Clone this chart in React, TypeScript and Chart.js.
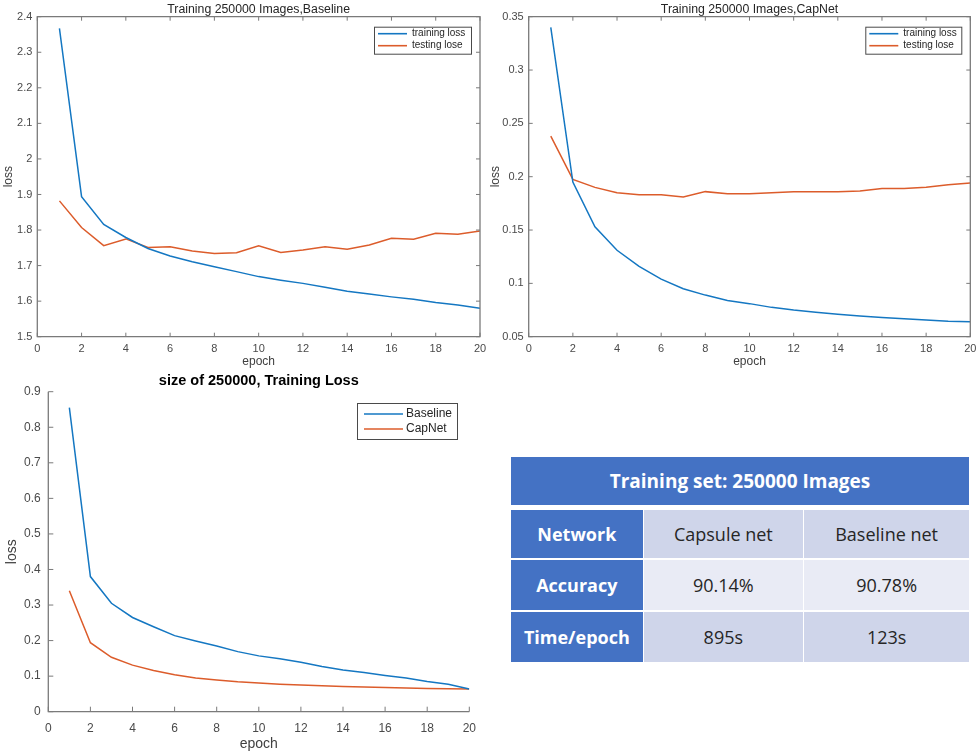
import React, { useEffect, useRef } from 'react';
import { Chart, registerables } from 'chart.js';

Chart.register(...registerables);

// ---------------- data ----------------
const epochs = [1, 2, 3, 4, 5, 6, 7, 8, 9, 10, 11, 12, 13, 14, 15, 16, 17, 18, 19, 20];

const baselineTrainLoss = [2.367, 1.894, 1.816, 1.779, 1.748, 1.727, 1.711, 1.697, 1.683, 1.669, 1.659, 1.650, 1.639, 1.628, 1.620, 1.612, 1.605, 1.596, 1.589, 1.580];
const baselineTestLoss = [1.882, 1.807, 1.756, 1.775, 1.751, 1.753, 1.741, 1.734, 1.736, 1.756, 1.737, 1.744, 1.753, 1.746, 1.758, 1.777, 1.774, 1.791, 1.788, 1.797];

const capnetTrainLoss = [0.340, 0.195, 0.153, 0.131, 0.116, 0.104, 0.095, 0.089, 0.084, 0.081, 0.0775, 0.075, 0.073, 0.071, 0.0694, 0.068, 0.0669, 0.0656, 0.0644, 0.064];
const capnetTestLoss = [0.238, 0.1975, 0.190, 0.185, 0.183, 0.183, 0.181, 0.186, 0.184, 0.184, 0.185, 0.186, 0.186, 0.186, 0.1866, 0.189, 0.189, 0.190, 0.1925, 0.194];

const compareBaselineLoss = [0.855, 0.380, 0.305, 0.265, 0.239, 0.214, 0.199, 0.185, 0.169, 0.157, 0.149, 0.139, 0.127, 0.117, 0.110, 0.102, 0.095, 0.085, 0.077, 0.064];
const compareCapnetLoss = [0.340, 0.194, 0.153, 0.131, 0.116, 0.104, 0.095, 0.089, 0.084, 0.081, 0.0775, 0.075, 0.073, 0.071, 0.0694, 0.068, 0.0669, 0.0656, 0.0644, 0.064];

const xTicks = [0, 2, 4, 6, 8, 10, 12, 14, 16, 18, 20];
const baselineYTicks = [1.5, 1.6, 1.7, 1.8, 1.9, 2.0, 2.1, 2.2, 2.3, 2.4];
const capnetYTicks = [0.05, 0.1, 0.15, 0.2, 0.25, 0.3, 0.35];
const compareYTicks = [0, 0.1, 0.2, 0.3, 0.4, 0.5, 0.6, 0.7, 0.8, 0.9];

const tableTitle = 'Training set: 250000 Images';
const tableRowLabels = ['Network', 'Accuracy', 'Time/epoch'];
const capsuleColumn = ['Capsule net', '90.14%', '895s'];
const baselineColumn = ['Baseline net', '90.78%', '123s'];

// ---------------- styles ----------------
const BLUE = '#1477C2';
const ORANGE = '#DC5C2B';
const AXIS = '#7a7a7a';
const TICKTXT = '#4a4a4a';
const FONT = '"Liberation Sans", Arial, Helvetica, sans-serif';

const matlabPlugin = {
  id: 'matlabAxes',
  afterDatasetsDraw(chart: any, _args: any, opts: any) {
    const { ctx, chartArea: a } = chart;
    const xs = chart.scales.x;
    const ys = chart.scales.y;
    const L = opts.tickLen || 4;
    ctx.save();

    // axes title, centred on the plot area (MATLAB style)
    if (opts.title) {
      ctx.font = `${opts.title.weight} ${opts.title.size}px ${FONT}`;
      ctx.fillStyle = opts.title.color;
      ctx.textAlign = 'center';
      ctx.textBaseline = 'middle';
      ctx.fillText(opts.title.text, (a.left + a.right) / 2, opts.title.y);
    }

    ctx.strokeStyle = AXIS;
    ctx.lineWidth = 1;
    ctx.beginPath();
    xs.ticks.forEach((t: any) => {
      const px = xs.getPixelForValue(t.value);
      ctx.moveTo(px, a.bottom);
      ctx.lineTo(px, a.bottom - L);
      if (opts.box) {
        ctx.moveTo(px, a.top);
        ctx.lineTo(px, a.top + L);
      }
    });
    ys.ticks.forEach((t: any) => {
      const py = ys.getPixelForValue(t.value);
      ctx.moveTo(a.left, py);
      ctx.lineTo(a.left + L, py);
      if (opts.box) {
        ctx.moveTo(a.right, py);
        ctx.lineTo(a.right - L, py);
      }
    });
    ctx.stroke();
    ctx.lineWidth = 1.3;
    ctx.beginPath();
    if (opts.box) {
      ctx.rect(a.left, a.top, a.right - a.left, a.bottom - a.top);
    } else {
      ctx.moveTo(a.left, a.top);
      ctx.lineTo(a.left, a.bottom);
      ctx.lineTo(a.right, a.bottom);
    }
    ctx.stroke();

    // legend
    const lg = opts.legend;
    if (lg) {
      const bx = a.right - lg.inset - lg.width;
      const by = a.top + lg.top;
      ctx.fillStyle = '#ffffff';
      ctx.fillRect(bx, by, lg.width, lg.height);
      ctx.strokeStyle = '#4a4a4a';
      ctx.lineWidth = 1;
      ctx.strokeRect(bx + 0.5, by + 0.5, lg.width, lg.height);
      ctx.font = `${lg.fontSize}px ${FONT}`;
      ctx.textBaseline = 'middle';
      ctx.textAlign = 'left';
      chart.data.datasets.forEach((ds: any, i: number) => {
        const y = by + lg.firstRow + i * lg.rowGap;
        ctx.strokeStyle = ds.borderColor;
        ctx.lineWidth = 1.6;
        ctx.beginPath();
        ctx.moveTo(bx + lg.lineStart, y);
        ctx.lineTo(bx + lg.lineStart + lg.lineLen, y);
        ctx.stroke();
        ctx.fillStyle = '#262626';
        ctx.fillText(ds.label, bx + lg.textStart, y);
      });
    }
    ctx.restore();
  },
};

const fmt = (v: number) => String(Number(Number(v).toFixed(3)));

function buildConfig(spec: any) {
  return {
    type: 'line',
    data: {
      datasets: spec.series.map((s: any) => ({
        label: s.label,
        data: epochs.map((e, i) => ({ x: e, y: s.data[i] })),
        borderColor: s.color,
        backgroundColor: s.color,
        borderWidth: 1.5,
        pointRadius: 0,
        tension: 0,
        fill: false,
      })),
    },
    options: {
      responsive: false,
      animation: false,
      events: [],
      layout: { padding: { left: 0, right: spec.padRight, top: spec.padTop, bottom: 0 } },
      plugins: {
        legend: { display: false },
        tooltip: { enabled: false },
        title: { display: false },
        matlabAxes: { box: spec.box, tickLen: spec.tickLen, legend: spec.legend, title: spec.title },
      },
      scales: {
        x: {
          type: 'linear',
          min: 0,
          max: 20,
          grid: { display: false, drawTicks: false },
          border: { display: false },
          afterBuildTicks: (s: any) => { s.ticks = xTicks.map((v) => ({ value: v })); },
          afterFit: (s: any) => { s.height = spec.xAxisHeight; s.paddingLeft = 0; s.paddingRight = 0; },
          ticks: { color: TICKTXT, font: spec.tickFont, padding: spec.xTickPad, maxRotation: 0, autoSkip: false, callback: (v: number) => fmt(v) },
          title: { display: true, text: 'epoch', color: '#404040', font: spec.axisTitleFont, padding: spec.xTitlePad },
        },
        y: {
          type: 'linear',
          min: spec.yMin,
          max: spec.yMax,
          grid: { display: false, drawTicks: false },
          border: { display: false },
          afterBuildTicks: (s: any) => { s.ticks = spec.yTicks.map((v: number) => ({ value: v })); },
          afterFit: (s: any) => { s.width = spec.yAxisWidth; s.paddingTop = 0; s.paddingBottom = 0; },
          ticks: { color: TICKTXT, font: spec.tickFont, padding: spec.yTickPad, autoSkip: false, callback: (v: number) => fmt(v) },
          title: { display: true, text: 'loss', color: '#404040', font: spec.axisTitleFont, padding: spec.yTitlePad },
        },
      },
    },
    plugins: [matlabPlugin],
  };
}

function LineChart({ spec, left, top, width, height }: any) {
  const ref = useRef<HTMLCanvasElement | null>(null);
  useEffect(() => {
    if (!ref.current) return;
    const chart = new Chart(ref.current, buildConfig(spec) as any);
    return () => chart.destroy();
  }, []);
  return (
    <div style={{ position: 'absolute', left, top, width, height }}>
      <canvas ref={ref} width={width} height={height} style={{ width, height, display: 'block' }} />
    </div>
  );
}

const topTickFont = { family: FONT, size: 11 };
const topAxisTitleFont = { family: FONT, size: 12 };

const baselineSpec = {
  title: { text: 'Training 250000 Images,Baseline', size: 12.3, weight: 'normal', color: '#262626', y: 9.5 },
  padTop: 16.7,
  series: [
    { label: 'training loss', data: baselineTrainLoss, color: BLUE },
    { label: 'testing lose', data: baselineTestLoss, color: ORANGE },
  ],
  yMin: 1.5, yMax: 2.4, yTicks: baselineYTicks,
  yAxisWidth: 37.3, xAxisHeight: 33.3, padRight: 10,
  tickFont: topTickFont, yTickPad: 5, xTickPad: 6,
  axisTitleFont: topAxisTitleFont, xTitlePad: { top: 0, bottom: 1 }, yTitlePad: { top: 1, bottom: 1 },
  box: true, tickLen: 4,
  legend: { inset: 9, top: 10, width: 97, height: 27, firstRow: 7, rowGap: 12, lineStart: 4, lineLen: 29, textStart: 38, fontSize: 10 },
};

const capnetSpec = {
  ...baselineSpec,
  title: { text: 'Training 250000 Images,CapNet', size: 12.3, weight: 'normal', color: '#262626', y: 9.5 },
  series: [
    { label: 'training loss', data: capnetTrainLoss, color: BLUE },
    { label: 'testing lose', data: capnetTestLoss, color: ORANGE },
  ],
  yMin: 0.05, yMax: 0.35, yTicks: capnetYTicks,
  yAxisWidth: 41.7, padRight: 6.7,
  legend: { inset: 9, top: 10, width: 96, height: 27, firstRow: 7, rowGap: 12, lineStart: 4, lineLen: 29, textStart: 38, fontSize: 10 },
};

const compareSpec = {
  title: { text: 'size of 250000, Training Loss', size: 14.5, weight: 'bold', color: '#000000', y: 10.5 },
  padTop: 21.7,
  series: [
    { label: 'Baseline', data: compareBaselineLoss, color: BLUE },
    { label: 'CapNet', data: compareCapnetLoss, color: ORANGE },
  ],
  yMin: 0, yMax: 0.9, yTicks: compareYTicks,
  yAxisWidth: 48.3, xAxisHeight: 41.3, padRight: 20.7,
  tickFont: { family: FONT, size: 12 }, yTickPad: 7.6, xTickPad: 10,
  axisTitleFont: { family: FONT, size: 14 }, xTitlePad: { top: 0, bottom: 0.6 }, yTitlePad: { top: 4, bottom: 1 },
  box: false, tickLen: 5,
  legend: { inset: 12.3, top: 11.3, width: 100, height: 36, firstRow: 11, rowGap: 15, lineStart: 7, lineLen: 39, textStart: 49, fontSize: 12 },
};

// ---------------- table ----------------
const HEAD_BLUE = '#4472C4';
const ROW_BG = ['#CFD5EA', '#E9EBF5', '#CFD5EA'];
const TFONT = '"Open Sans", "Noto Sans", sans-serif';
const colX = [511, 644, 804.3];
const colW = [131.7, 158.7, 164.7];
const rowY = [510, 560, 611.7];
const rowH = [48.3, 50, 50];

function Cell({ x, y, w, h, bg, color, bold, size, text }: any) {
  return (
    <div
      style={{
        position: 'absolute', left: x, top: y, width: w, height: h, background: bg, color,
        fontFamily: TFONT, fontWeight: bold ? 700 : 400, fontSize: size,
        display: 'flex', alignItems: 'center', justifyContent: 'center', whiteSpace: 'nowrap',
      }}
    >
      {text}
    </div>
  );
}

function ResultTable() {
  const cells: any[] = [];
  tableRowLabels.forEach((lab, r) => {
    cells.push(<Cell key={'h' + r} x={colX[0]} y={rowY[r]} w={colW[0]} h={rowH[r]} bg={HEAD_BLUE} color="#ffffff" bold size={18} text={lab} />);
    cells.push(<Cell key={'c' + r} x={colX[1]} y={rowY[r]} w={colW[1]} h={rowH[r]} bg={ROW_BG[r]} color="#262626" size={18} text={capsuleColumn[r]} />);
    cells.push(<Cell key={'b' + r} x={colX[2]} y={rowY[r]} w={colW[2]} h={rowH[r]} bg={ROW_BG[r]} color="#262626" size={18} text={baselineColumn[r]} />);
  });
  return (
    <>
      <Cell x={511} y={456.7} w={458} h={48.3} bg={HEAD_BLUE} color="#ffffff" bold size={19} text={tableTitle} />
      {cells}
    </>
  );
}

export default function App() {
  return (
    <div style={{ position: 'absolute', left: 0, top: 0, width: 977, height: 753, overflow: 'hidden', background: '#ffffff' }}>
      <LineChart spec={baselineSpec} left={0} top={0} width={490} height={370} />
      <LineChart spec={capnetSpec} left={487} top={0} width={490} height={370} />
      <LineChart spec={compareSpec} left={0} top={370} width={490} height={383} />
      <ResultTable />
    </div>
  );
}
